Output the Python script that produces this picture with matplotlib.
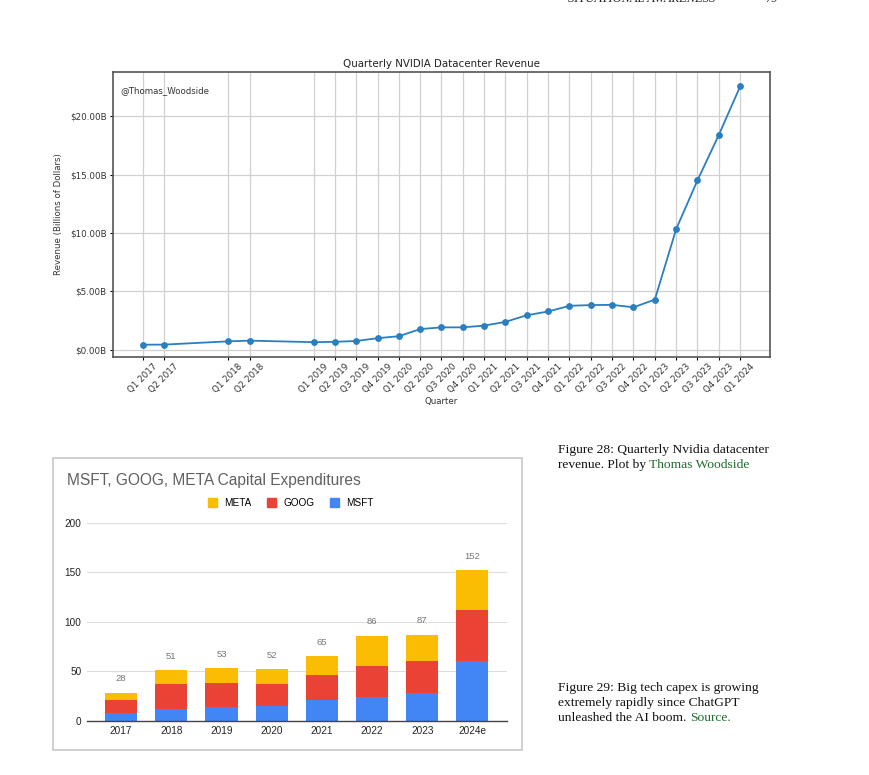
import matplotlib
matplotlib.use('Agg')
import matplotlib.pyplot as plt
from matplotlib.patches import Rectangle, Patch
from matplotlib.ticker import FuncFormatter

# ---------------- data: NVIDIA datacenter revenue ----------------
quarters = ['Q1 2017', 'Q2 2017', 'Q1 2018', 'Q2 2018', 'Q1 2019', 'Q2 2019',
            'Q3 2019', 'Q4 2019', 'Q1 2020', 'Q2 2020', 'Q3 2020', 'Q4 2020',
            'Q1 2021', 'Q2 2021', 'Q3 2021', 'Q4 2021', 'Q1 2022', 'Q2 2022',
            'Q3 2022', 'Q4 2022', 'Q1 2023', 'Q2 2023', 'Q3 2023', 'Q4 2023',
            'Q1 2024']
revenue = [0.41, 0.42, 0.70, 0.76, 0.63, 0.66, 0.73, 0.97, 1.14, 1.75, 1.90,
           1.90, 2.05, 2.37, 2.94, 3.26, 3.75, 3.81, 3.83, 3.62, 4.28, 10.32,
           14.51, 18.40, 22.56]
y_ticks_rev = [0, 5, 10, 15, 20]

# ---------------- data: big tech capex ----------------
years = ['2017', '2018', '2019', '2020', '2021', '2022', '2023', '2024e']
msft = [8, 12, 14, 15, 21, 24, 28, 60]
goog = [13, 25, 24, 22, 25, 31, 32, 52]
meta = [7, 14, 15, 15, 19, 31, 27, 40]
totals = [28, 51, 53, 52, 65, 86, 87, 152]
y_ticks_capex = [0, 50, 100, 150, 200]

W, H = 870, 775
fig = plt.figure(figsize=(W / 100, H / 100), dpi=100)
fig.patch.set_facecolor('white')

def fx(px):
    return px / W

def fy(py):
    return 1 - py / H

# ---------------- header (cut off at the top, as in the page) ----------------
fig.text(fx(568), fy(-1), 'SITUATIONAL AWARENESS', fontsize=9, style='italic',
         family='Liberation Serif', color='#222222', ha='left', va='center')
fig.text(fx(765), fy(-1), '79', fontsize=9, style='italic',
         family='Liberation Serif', color='#222222', ha='left', va='center')

# ---------------- top chart ----------------
txt = '#333333'
qx = [(int(q[3:]) - 2017) * 4 + int(q[1]) - 1 for q in quarters]
ax1 = fig.add_axes([fx(113), fy(356.5), fx(770 - 113), (356.5 - 72) / H])
ax1.plot(qx, revenue, marker='o', color='#2a7fc0', lw=1.3, ms=3.9, zorder=3)
ax1.set_xticks(qx)
ax1.set_xticklabels(quarters, rotation=45, fontsize=6.3, color=txt)
ax1.set_yticks(y_ticks_rev)
ax1.yaxis.set_major_formatter(FuncFormatter(lambda v, _: f'${v:.2f}B'))
ax1.tick_params(axis='y', labelsize=6.3, labelcolor=txt, length=2.5, width=0.8, pad=2)
ax1.tick_params(axis='x', length=2.5, width=0.8, pad=1.5)
ax1.set_xlim(-1.4, 29.4)
ax1.set_ylim(-0.6, 23.8)
ax1.grid(True, color='#d0d0d0', lw=0.9)
ax1.set_axisbelow(True)
for s in ax1.spines.values():
    s.set_color('#555555')
    s.set_linewidth(1.2)
ax1.set_title('Quarterly NVIDIA Datacenter Revenue', fontsize=7.4, color='#222222', pad=3.5)
ax1.set_ylabel('Revenue (Billions of Dollars)', fontsize=6.2, color=txt, labelpad=5)
ax1.set_xlabel('Quarter', fontsize=6.2, color=txt, labelpad=1.5)
ax1.text(0.011, 0.936, '@Thomas_Woodside', transform=ax1.transAxes, fontsize=6.2,
         color=txt, ha='left', va='center')

# ---------------- bottom chart ----------------
fig.patches.append(Rectangle((fx(53), fy(750)), fx(522 - 53), (750 - 458) / H,
                             transform=fig.transFigure, facecolor='white',
                             edgecolor='#c8c8c8', lw=1.2, zorder=-5))
sans = ['Liberation Sans', 'DejaVu Sans']
c_msft, c_goog, c_meta = '#4285f4', '#ea4335', '#fbbc04'
ax2 = fig.add_axes([fx(87), fy(720.7), fx(507 - 87), (720.7 - 523) / H])
ax2.set_zorder(2)
xs = list(range(len(years)))
bw = 0.64
ax2.bar(xs, msft, width=bw, color=c_msft, zorder=2)
ax2.bar(xs, goog, width=bw, bottom=msft, color=c_goog, zorder=2)
base2 = [a + b for a, b in zip(msft, goog)]
ax2.bar(xs, meta, width=bw, bottom=base2, color=c_meta, zorder=2)
for i, t in enumerate(totals):
    ax2.annotate(str(t), (i, base2[i] + meta[i]), xytext=(0, 7), textcoords='offset points',
                 ha='center', va='bottom', fontsize=6.8, color='#777777', family=sans)
ax2.set_xlim(-0.68, 7.69)
ax2.set_ylim(0, 200)
ax2.set_yticks(y_ticks_capex)
ax2.set_xticks(xs)
ax2.set_xticklabels(years, family=sans, fontsize=7.2, color='#222222')
ax2.set_yticklabels([str(v) for v in y_ticks_capex], family=sans, fontsize=7.2, color='#222222')
ax2.tick_params(axis='both', length=0)
ax2.tick_params(axis='y', pad=4)
ax2.tick_params(axis='x', pad=4)
ax2.grid(axis='y', color='#dddddd', lw=0.8, zorder=0)
ax2.set_axisbelow(True)
for k in ['left', 'right', 'top']:
    ax2.spines[k].set_visible(False)
ax2.spines['bottom'].set_color('#444444')
ax2.spines['bottom'].set_linewidth(1.0)
ax2.spines['bottom'].set_zorder(3)
ax2.set_facecolor('none')

fig.text(fx(67), fy(481), 'MSFT, GOOG, META Capital Expenditures', family=sans,
         fontsize=11.2, color='#616161', ha='left', va='center')
handles = [Patch(color=c_meta), Patch(color=c_goog), Patch(color=c_msft)]
fig.legend(handles, ['META', 'GOOG', 'MSFT'], loc='center',
           bbox_to_anchor=(fx(291), fy(503)), ncol=3, frameon=False,
           handlelength=0.9, handleheight=0.9, handletextpad=0.7, columnspacing=1.6,
           prop={'family': sans, 'size': 7.2})

# ---------------- captions ----------------
serif = 'Liberation Serif'
green = '#1e6b2c'
cap_fs = 9.7
fig.text(fx(558), fy(450), 'Figure 28: Quarterly Nvidia datacenter', family=serif,
         fontsize=cap_fs, color='#111111', ha='left', va='center')
t = fig.text(fx(558), fy(465), 'revenue. Plot by ', family=serif,
             fontsize=cap_fs, color='#111111', ha='left', va='center')
plt.annotate('Thomas Woodside', xy=(1, 0), xycoords=t, va='bottom', ha='left',
             family=serif, fontsize=cap_fs, color=green, annotation_clip=False)

fig.text(fx(558), fy(688), 'Figure 29: Big tech capex is growing', family=serif,
         fontsize=cap_fs, color='#111111', ha='left', va='center')
fig.text(fx(558), fy(703), 'extremely rapidly since ChatGPT', family=serif,
         fontsize=cap_fs, color='#111111', ha='left', va='center')
t2 = fig.text(fx(558), fy(718), 'unleashed the AI boom. ', family=serif,
              fontsize=cap_fs, color='#111111', ha='left', va='center')
plt.annotate('Source.', xy=(1, 0), xycoords=t2, va='bottom', ha='left',
             family=serif, fontsize=cap_fs, color=green, annotation_clip=False)

fig.savefig('out.png', dpi=100, facecolor='white')
